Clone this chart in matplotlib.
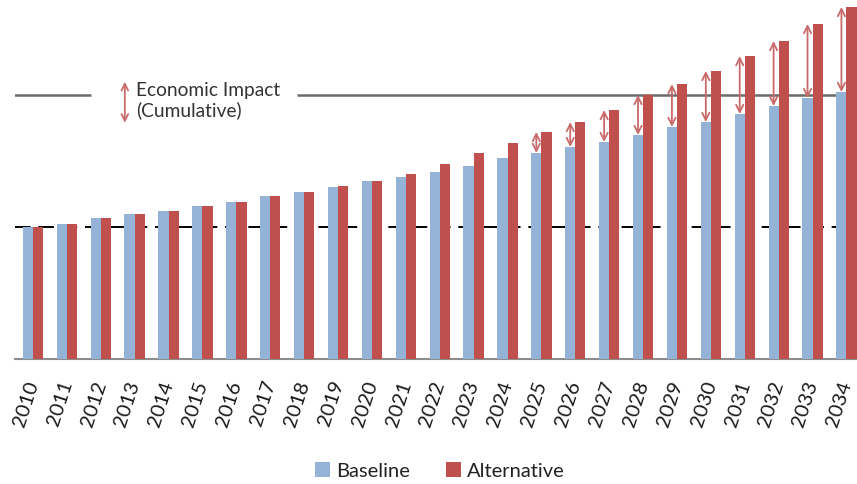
import matplotlib
matplotlib.use('Agg')
import matplotlib.pyplot as plt
import numpy as np

plt.rcParams['font.family'] = ['Lato', 'DejaVu Sans']

years = list(range(2010, 2035))
baseline = [100, 102.3, 106.8, 109.8, 112.1, 115.9, 118.9, 123.5, 126.5, 130.3,
            134.8, 137.9, 141.7, 146.2, 152.3, 156.1, 160.6, 164.4, 169.7, 175.8,
            179.5, 185.6, 191.7, 197.7, 202.3]
alternative = [100, 102.3, 106.8, 109.8, 112.1, 115.9, 118.9, 123.5, 126.5, 131.0,
               134.8, 140.2, 147.7, 156.1, 163.6, 172.0, 179.5, 188.6, 200.0, 208.3,
               218.2, 229.5, 240.9, 253.8, 266.7]
arrow_years = list(range(2025, 2035))
ref_low = 100
ref_high = 200

blue = '#95b3d7'
red = '#c0504d'

fig = plt.figure(figsize=(8.57, 4.84), dpi=100)
ax = fig.add_axes([15/857, 125/484, 842/857, 359/484])

x = np.arange(len(years))
w = 0.3
ax.bar(x - w/2, baseline, w, color=blue, label='Baseline', zorder=3)
ax.bar(x + w/2, alternative, w, color=red, label='Alternative', zorder=3)

# reference lines
ax.axhline(ref_low, color='black', lw=1.4, ls=(0, (8, 4)), zorder=1)
ax.hlines(ref_high, -0.6, 1.7, color='#6b6b6b', lw=1.8, zorder=2)
ax.hlines(ref_high, 7.8, 25, color='#6b6b6b', lw=1.8, zorder=2)

# impact arrows
for yr in arrow_years:
    i = years.index(yr)
    ax.annotate('', xy=(i - w/2, alternative[i]), xytext=(i - w/2, baseline[i]),
                arrowprops=dict(arrowstyle='<->', color='#c96a6a', lw=1.3,
                                mutation_scale=13, shrinkA=0, shrinkB=0),
                zorder=5)

# legend-like annotation
ax.annotate('', xy=(2.71, 210), xytext=(2.71, 179),
            arrowprops=dict(arrowstyle='<->', color='#c96a6a', lw=1.3,
                            mutation_scale=12, shrinkA=0, shrinkB=0))
ax.text(3.05, 196, 'Economic Impact\n(Cumulative)', fontsize=13.8,
        color='#333333', va='center', ha='left', linespacing=1.15)

ax.set_xlim(-0.53, 24.31)
ax.set_ylim(0, 272)
ax.set_xticks(x)
ax.set_xticklabels([str(y) for y in years], rotation=72, fontsize=14.5,
                   ha='right', va='center', rotation_mode='anchor', color='#1a1a1a')
ax.tick_params(axis='x', length=0, pad=16)
ax.set_yticks([])
for s in ['left', 'right', 'top']:
    ax.spines[s].set_visible(False)
ax.spines['bottom'].set_color('#8c8c8c')
ax.spines['bottom'].set_linewidth(1.5)

fig.legend(loc='center', bbox_to_anchor=(0.513, 0.027), ncol=2, frameon=False,
           fontsize=14.5, handlelength=0.75, handleheight=0.75, handletextpad=0.3,
           columnspacing=1.8, labelcolor='#222222')

fig.savefig('out.png', dpi=100)
